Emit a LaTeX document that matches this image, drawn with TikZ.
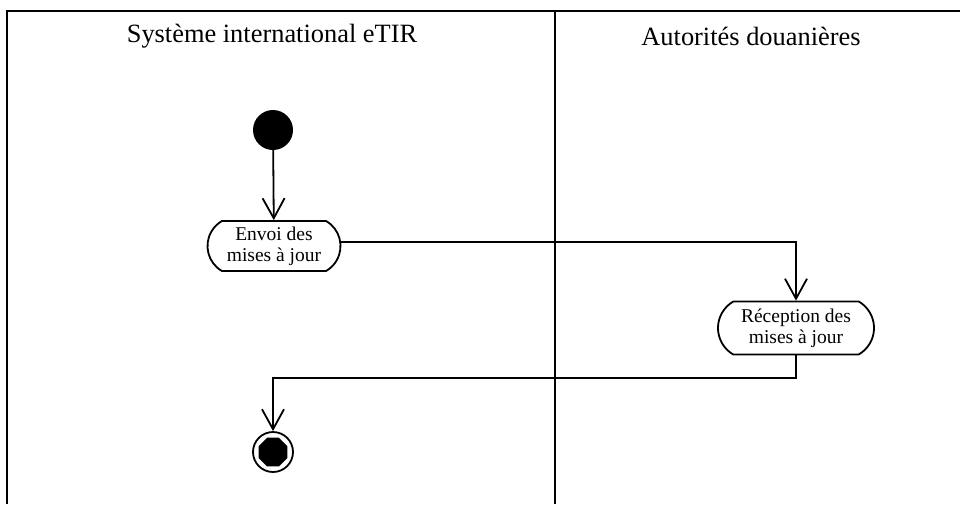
\documentclass[tikz,border=0pt]{standalone}
\usepackage{fontspec}
\setmainfont{Liberation Serif}
\usetikzlibrary{arrows.meta,shapes.geometric,shapes.misc}
\begin{document}
\begin{tikzpicture}[x=1pt,y=-1pt,
  frame/.style={line width=2pt},
  flow/.style={line width=1.8pt,-{Straight Barb[length=20pt,width=22pt,line width=1.8pt]}},
  activity/.style={draw,line width=1.8pt,rounded rectangle,rounded rectangle arc length=120,minimum width=137pt,minimum height=50pt,inner sep=2pt,align=center,font=\fontsize{19.5}{21}\selectfont},
  lane/.style={font=\fontsize{26.4}{30}\selectfont}]
\useasboundingbox (0,0) rectangle (960,504);
\draw[frame] (7,504) -- (7,11) -- (960,11);
\draw[frame] (555,11) -- (555,504);
\node[lane] (l1) at (272,36) {Système international eTIR};
\node[lane] (l2) at (751,36) {Autorités douanières};
\node[circle,fill=black,minimum size=40pt,inner sep=0pt] (start) at (273,130) {};
\node[activity] (a1) at (274,246) {Envoi des\\mises à jour};
\node[activity,minimum width=160pt,minimum height=53pt] (a2) at (796,328) {Réception des\\mises à jour};
\node[circle,draw,line width=1.8pt,minimum size=40pt,inner sep=0pt] (end) at (273,452) {};
\node[regular polygon,regular polygon sides=8,fill=black,minimum size=31pt,inner sep=0pt] (endin) at (end) {};
\draw[flow] (start) -- (a1);
\draw[flow] (a1.east |- 0,242) -| (a2.north);
\draw[flow] (a2.south) |- (273,378) -- (end.north);
\end{tikzpicture}
\end{document}
